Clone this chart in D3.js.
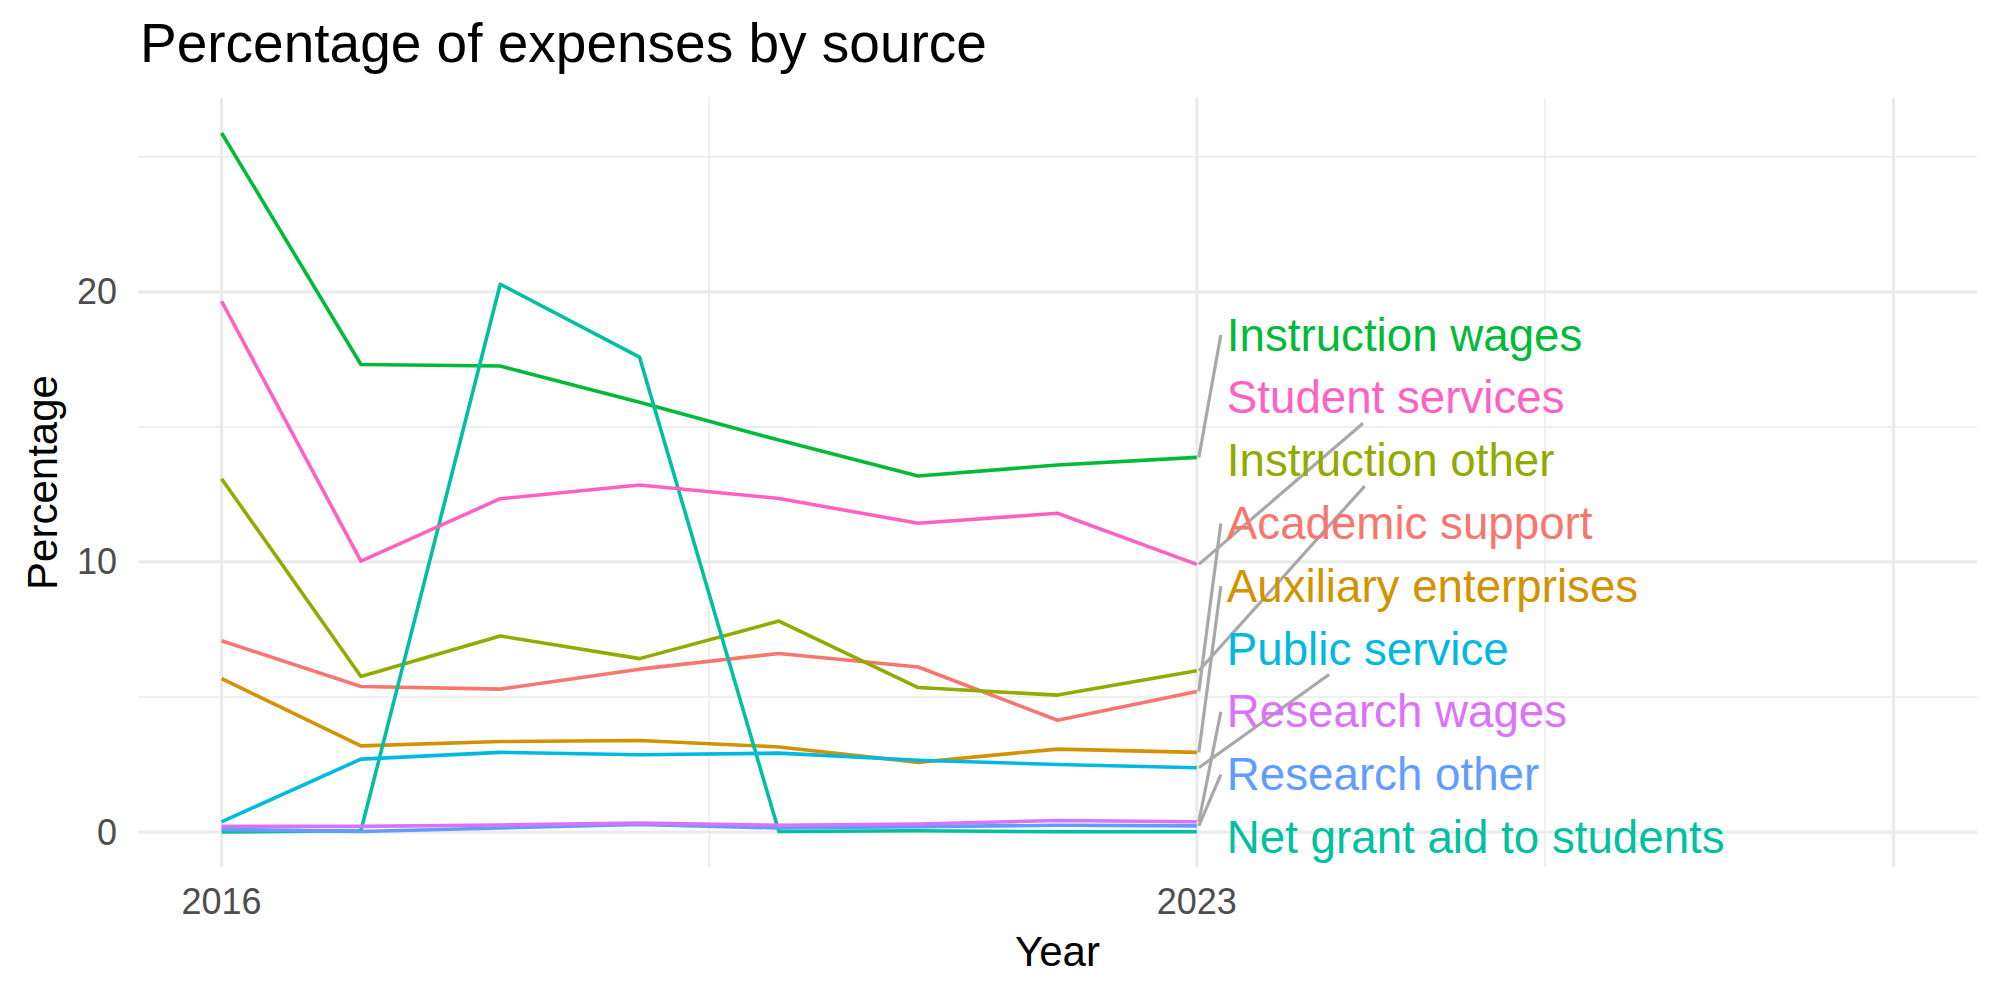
<!DOCTYPE html>
<html lang="en">
<head>
<meta charset="UTF-8">
<title>Percentage of expenses by source</title>
<script src="https://d3js.org/d3.v7.min.js"></script>
<style>
    body{margin:0;background:#fff;}
    svg text{font-family:"Liberation Sans",Arial,sans-serif;}
</style>
</head>
<body>
<svg id="chart" width="2000" height="1000"></svg>
<script>
    const years = [2016,2017,2018,2019,2020,2021,2022,2023];
    const sources = ['Academic support','Auxiliary enterprises','Instruction other','Instruction wages',
        'Net grant aid to students','Public service','Research other','Research wages','Student services'];
    const colors = ['#F8766D','#D39200','#93AA00','#00BA38','#00C19F','#00B9E3','#619CFF','#DB72FB','#FF61C3'];

    const academicSupport   = [7.08,5.39,5.29,6.03,6.61,6.11,4.14,5.20];
    const auxiliary         = [5.68,3.19,3.35,3.39,3.15,2.58,3.07,2.95];
    const instructionOther  = [13.08,5.76,7.26,6.42,7.81,5.35,5.07,5.97];
    const instructionWages  = [25.88,17.31,17.25,15.91,14.51,13.18,13.59,13.87];
    const netGrantAid       = [0.00,0.05,20.28,17.58,0.02,0.05,0.01,0.01];
    const publicService     = [0.38,2.70,2.95,2.86,2.92,2.66,2.50,2.38];
    const researchOther     = [0.10,0.02,0.15,0.28,0.15,0.20,0.25,0.23];
    const researchWages     = [0.21,0.21,0.26,0.33,0.25,0.30,0.43,0.38];
    const studentServices   = [19.65,10.03,12.34,12.85,12.35,11.43,11.80,9.91];

    const yTicks = [0,10,20];
    const yMinor = [5,15,25];
    const xBreaks = [2016,2023,2028];
    const xLabels = ['2016','2023',''];
    // where the repel segment meets its label box (top label first)
    const segEnd = ['left','bottom','bottom','left','left','bottom','left','left',null];

    const values = [academicSupport,auxiliary,instructionOther,instructionWages,netGrantAid,
        publicService,researchOther,researchWages,studentServices];
    const series = sources.map((s,i)=>({name:s,color:colors[i],
        values:years.map((y,j)=>({year:y,v:values[i][j]}))}));

    const svg = d3.select('#chart');
    const panel = {left:138,right:1977,top:98,bottom:867};

    const xr = [2016,2028], xp = (xr[1]-xr[0])*0.05;
    const x = d3.scaleLinear().domain([xr[0]-xp,xr[1]+xp]).range([panel.left,panel.right]);
    const ext = d3.extent(values.flat()), yp = (ext[1]-ext[0])*0.05;
    const y = d3.scaleLinear().domain([ext[0]-yp,ext[1]+yp]).range([panel.bottom,panel.top]);

    // grid
    const grid = svg.append('g');
    const xMinor = d3.pairs(xBreaks).map(p=>(p[0]+p[1])/2);
    grid.selectAll('.ymin').data(yMinor).join('line')
        .attr('x1',panel.left).attr('x2',panel.right)
        .attr('y1',d=>y(d)).attr('y2',d=>y(d))
        .attr('stroke','#EBEBEB').attr('stroke-width',1.6);
    grid.selectAll('.xmin').data(xMinor).join('line')
        .attr('y1',panel.top).attr('y2',panel.bottom)
        .attr('x1',d=>x(d)).attr('x2',d=>x(d))
        .attr('stroke','#EBEBEB').attr('stroke-width',1.6);
    grid.selectAll('.ymaj').data(yTicks).join('line')
        .attr('x1',panel.left).attr('x2',panel.right)
        .attr('y1',d=>y(d)).attr('y2',d=>y(d))
        .attr('stroke','#EBEBEB').attr('stroke-width',3.2);
    grid.selectAll('.xmaj').data(xBreaks).join('line')
        .attr('y1',panel.top).attr('y2',panel.bottom)
        .attr('x1',d=>x(d)).attr('x2',d=>x(d))
        .attr('stroke','#EBEBEB').attr('stroke-width',3.2);

    // axis labels
    svg.selectAll('.ytick').data(yTicks).join('text')
        .attr('x',panel.left-21).attr('y',d=>y(d))
        .attr('text-anchor','end').attr('dominant-baseline','central')
        .attr('font-size',36).attr('fill','#4D4D4D')
        .text(d=>d);
    svg.selectAll('.xtick').data(xBreaks).join('text')
        .attr('x',d=>x(d)).attr('y',panel.bottom+47)
        .attr('text-anchor','middle')
        .attr('font-size',36).attr('fill','#4D4D4D')
        .text((d,i)=>xLabels[i]);

    svg.append('text')
        .attr('x',(panel.left+panel.right)/2).attr('y',966)
        .attr('text-anchor','middle').attr('font-size',42)
        .text('Year');
    svg.append('text')
        .attr('transform',`translate(57,${(panel.top+panel.bottom)/2}) rotate(-90)`)
        .attr('text-anchor','middle').attr('font-size',42)
        .text('Percentage');
    svg.append('text')
        .attr('x',140).attr('y',62)
        .attr('font-size',55)
        .text('Percentage of expenses by source');

    // lines
    const line = d3.line().x(d=>x(d.year)).y(d=>y(d.v));
    svg.append('g').selectAll('path').data(series).join('path')
        .attr('d',d=>line(d.values))
        .attr('fill','none')
        .attr('stroke',d=>d.color)
        .attr('stroke-width',3.6)
        .attr('stroke-linejoin','round');

    // repelled labels, stacked by last value
    const last = d=>d.values[d.values.length-1];
    const sorted = series.slice().sort((a,b)=>last(b).v-last(a).v);
    const ly = d3.scalePoint().domain(sorted.map(d=>d.name)).range([y(18.4),y(-0.2)]);
    const lx = x(2023)+30;

    const segs = svg.append('g');
    const labels = svg.append('g').selectAll('text').data(sorted).join('text')
        .attr('x',lx).attr('y',d=>ly(d.name))
        .attr('dominant-baseline','central')
        .attr('font-size',45.7)
        .attr('fill',d=>d.color)
        .text(d=>d.name);

    labels.each(function(d,i){
        if(!segEnd[i]) return;
        const b = this.getBBox();
        const box = {x1:b.x-6,x2:b.x+b.width,y1:b.y,y2:b.y+b.height};
        const px = x(last(d).year)+2, py = y(last(d).v);
        let ex, ey;
        if(segEnd[i]==='left'){
            ex = box.x1; ey = (box.y1+box.y2)/2;
        }else{
            const cx = (box.x1+box.x2)/2, cy = (box.y1+box.y2)/2;
            const t = (py-box.y2)/(py-cy);
            ex = px+t*(cx-px); ey = box.y2;
        }
        segs.append('line')
            .attr('x1',px).attr('y1',py).attr('x2',ex).attr('y2',ey)
            .attr('stroke','#A8A8A8').attr('stroke-width',3.2);
    });
</script>
</body>
</html>
